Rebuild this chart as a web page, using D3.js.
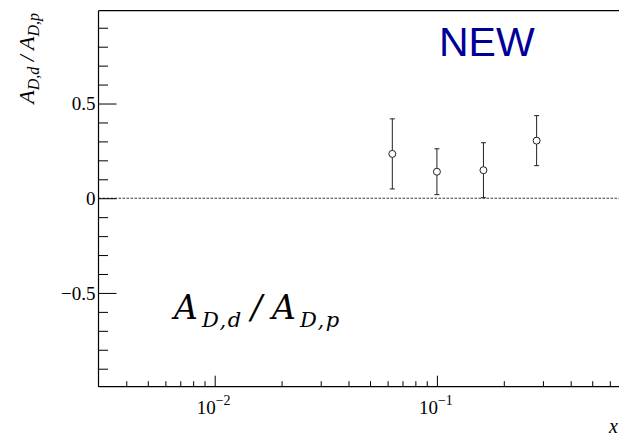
<!DOCTYPE html>
<html>
<head>
<meta charset="utf-8">
<script src="https://cdn.jsdelivr.net/npm/d3@7"></script>
<style>
  html, body { margin: 0; padding: 0; background: #fff; }
  svg { display: block; }
</style>
</head>
<body>
<svg id="chart" width="619" height="438"></svg>
<script>
// ---- data ----
const xValues = [0.063, 0.100, 0.162, 0.281];
const yValues = [0.234, 0.140, 0.148, 0.304];
const yErrors = [0.185, 0.121, 0.145, 0.132];
const xMajorTicks = [0.01, 0.1];
const xMajorExponents = ["\u22122", "\u22121"];
const xMinorTicks = [0.004, 0.005, 0.006, 0.007, 0.008, 0.009,
                     0.02, 0.03, 0.04, 0.05, 0.06, 0.07, 0.08, 0.09,
                     0.2, 0.3, 0.4, 0.5, 0.6, 0.7];
const yMajorTicks = [-0.5, 0, 0.5];
const yMajorLabels = ["\u22120.5", "0", "0.5"];
const yMinorTicks = [-0.9, -0.8, -0.7, -0.6, -0.4, -0.3, -0.2, -0.1,
                      0.1, 0.2, 0.3, 0.4, 0.6, 0.7, 0.8, 0.9];

const svg = d3.select("#chart");
const pL = 98.5, pR = 624.7, pT = 10.7, pB = 386.7;

const x = d3.scaleLog().domain([0.003, 0.7]).range([pL, pR]);
const y = d3.scaleLinear().domain([-0.995, 0.99]).range([pB, pT]);

const serif = "'Liberation Serif', 'Times New Roman', serif";

// frame top line
svg.append("line").attr("x1", pL).attr("x2", 619).attr("y1", pT).attr("y2", pT)
  .attr("stroke", "#000").attr("stroke-width", 1.2);

// zero dashed line
svg.append("line").attr("x1", pL).attr("x2", 619).attr("y1", y(0)).attr("y2", y(0))
  .attr("stroke", "#000").attr("stroke-width", 0.8).attr("stroke-dasharray", "2.5,1.5");

// x axis
const gxMaj = svg.append("g").attr("transform", `translate(0,${pB})`)
  .call(d3.axisBottom(x).tickValues(xMajorTicks).tickSize(-11).tickFormat(""));
const gxMin = svg.append("g").attr("transform", `translate(0,${pB})`)
  .call(d3.axisBottom(x).tickValues(xMinorTicks).tickSize(-5.5).tickFormat(""));
[gxMaj, gxMin].forEach(g => {
  g.select(".domain").remove();
  g.selectAll("line").attr("stroke", "#000").attr("stroke-width", 1);
});
svg.append("line").attr("x1", pL).attr("x2", 619).attr("y1", pB).attr("y2", pB)
  .attr("stroke", "#000").attr("stroke-width", 1.2);

// x tick labels 10^n
xMajorTicks.forEach((v, i) => {
  const t = svg.append("text")
    .attr("x", x(v) - 18).attr("y", 413.5)
    .attr("font-family", serif).attr("font-size", 19).attr("fill", "#000");
  t.append("tspan").text("10");
  t.append("tspan").attr("dy", -9).attr("font-size", 14).text(xMajorExponents[i]);
});

// x axis title
svg.append("text").attr("x", 618).attr("y", 433).attr("text-anchor", "end")
  .attr("font-family", serif).attr("font-style", "italic").attr("font-size", 20)
  .text("x");

// y axis
const gyMaj = svg.append("g").attr("transform", `translate(${pL},0)`)
  .call(d3.axisLeft(y).tickValues(yMajorTicks).tickSize(-18).tickPadding(3)
    .tickFormat((d, i) => yMajorLabels[i]));
const gyMin = svg.append("g").attr("transform", `translate(${pL},0)`)
  .call(d3.axisLeft(y).tickValues(yMinorTicks).tickSize(-9.5).tickFormat(""));
[gyMaj, gyMin].forEach(g => {
  g.select(".domain").remove();
  g.selectAll("line").attr("stroke", "#000").attr("stroke-width", 1);
});
gyMaj.selectAll("text").attr("font-family", serif).attr("font-size", 19)
  .attr("fill", "#000").attr("dy", "0.34em");
svg.append("line").attr("x1", pL).attr("x2", pL).attr("y1", pT).attr("y2", pB)
  .attr("stroke", "#000").attr("stroke-width", 1.2);

// y axis title (rotated)
const yt = svg.append("text")
  .attr("transform", `translate(34,13) rotate(-90)`)
  .attr("text-anchor", "end")
  .attr("font-family", serif).attr("font-style", "italic").attr("font-size", 22);
yt.append("tspan").text("A");
yt.append("tspan").attr("dy", 5).attr("font-size", 16).text("D,d");
yt.append("tspan").attr("dy", -5).text(" / A");
yt.append("tspan").attr("dy", 5).attr("font-size", 16).text("D,p");

// data: error bars
const pts = xValues.map((v, i) => ({ x: v, y: yValues[i], e: yErrors[i] }));
const eb = svg.append("g");
pts.forEach(p => {
  const cx = x(p.x);
  const yTop = y(p.y + p.e), yBot = y(p.y - p.e);
  eb.append("line").attr("x1", cx).attr("x2", cx).attr("y1", yTop).attr("y2", yBot)
    .attr("stroke", "#222").attr("stroke-width", 1);
  [yTop, yBot].forEach(yy => {
    eb.append("line").attr("x1", cx - 2.5).attr("x2", cx + 2.5).attr("y1", yy).attr("y2", yy)
      .attr("stroke", "#222").attr("stroke-width", 1);
  });
});
svg.append("g").selectAll("circle").data(pts).join("circle")
  .attr("cx", d => x(d.x)).attr("cy", d => y(d.y)).attr("r", 3.5)
  .attr("fill", "#fff").attr("stroke", "#222").attr("stroke-width", 1);

// NEW label
svg.append("text").attr("x", 439).attr("y", 56)
  .attr("font-family", "'Liberation Sans', Arial, sans-serif").attr("font-size", 41)
  .attr("fill", "#000099").text("NEW");

// big formula label
const mathFont = "'DejaVu Serif', 'Liberation Serif', serif";
const bl = svg.append("text").attr("y", 319)
  .attr("font-family", mathFont).attr("font-style", "italic").attr("fill", "#000");
bl.append("tspan").attr("x", 174).attr("y", 319).attr("font-size", 33).text("A");
bl.append("tspan").attr("x", 202).attr("y", 327).attr("font-size", 21).attr("letter-spacing", 1.5).text("D,d");
bl.append("tspan").attr("x", 251).attr("y", 319).attr("font-size", 33).text("/");
bl.append("tspan").attr("x", 272).attr("y", 319).attr("font-size", 33).text("A");
bl.append("tspan").attr("x", 300).attr("y", 327).attr("font-size", 21).attr("letter-spacing", 1.5).text("D,p");
</script>
</body>
</html>
